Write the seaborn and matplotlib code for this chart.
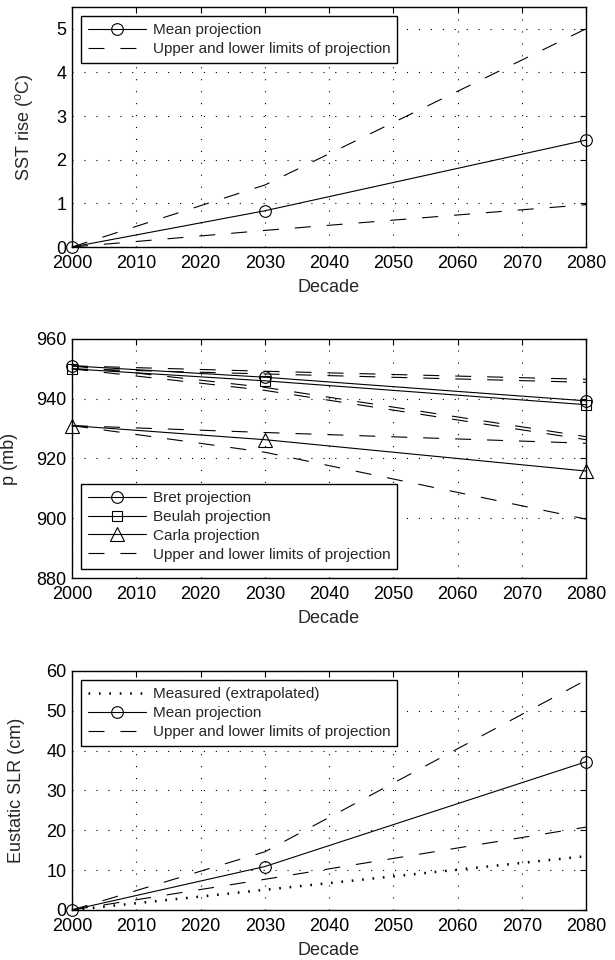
import numpy as np
import matplotlib
matplotlib.use('Agg')
import matplotlib.pyplot as plt
import seaborn as sns

# Data
DECADES = [2000, 2030, 2080]

sst_mean = [0.0, 0.83, 2.45]
sst_upper = [0.0, 1.42, 5.0]
sst_lower = [0.0, 0.38, 0.97]

bret_mean = [951.0, 947.2, 939.3]
bret_upper = [951.0, 949.2, 946.5]
bret_lower = [951.0, 943.8, 927.3]
beulah_mean = [950.0, 946.0, 938.0]
beulah_upper = [950.0, 948.3, 945.5]
beulah_lower = [950.0, 942.8, 926.3]
carla_mean = [931.0, 926.3, 915.8]
carla_upper = [931.0, 928.7, 925.1]
carla_lower = [931.0, 922.1, 899.7]

MEASURED_YEARS = [2000, 2080]
slr_measured = [0.0, 13.5]
slr_mean = [0.0, 10.9, 37.2]
slr_upper = [0.0, 14.6, 57.7]
slr_lower = [0.0, 7.7, 20.8]

XTICKS = list(range(2000, 2081, 10))
LIMITS_LABEL = 'Upper and lower limits of projection'

sns.set_style('white')
plt.rcParams['font.family'] = ['Liberation Sans', 'DejaVu Sans']
plt.rcParams['mathtext.fontset'] = 'custom'
plt.rcParams['mathtext.rm'] = 'Liberation Sans'
plt.rcParams['lines.scale_dashes'] = False

DASH = (0, (11.5, 11.5))
GRID_LS = (0, (0.8, 7.8))


def mean_line(ax, x, y, marker, ms, label):
    sns.lineplot(x=x, y=y, ax=ax, color='k', linewidth=0.8, marker=marker,
                 markersize=ms, markerfacecolor='none', markeredgecolor='k',
                 markeredgewidth=0.8, label=label, legend=False)


def limit_line(ax, x, y, label='_nolegend_'):
    sns.lineplot(x=x, y=y, ax=ax, color='k', linewidth=0.8, linestyle=DASH,
                 label=label, legend=False)


def style_axes(ax, ylim, yticks, ylabel, ylabel_x):
    ax.set_xlim(2000, 2080)
    ax.set_ylim(*ylim)
    ax.set_xticks(XTICKS)
    ax.set_yticks(yticks)
    ax.grid(True, color='k', linestyle=GRID_LS, linewidth=0.8)
    ax.tick_params(direction='in', top=True, right=True, length=4, width=0.8,
                   labelsize=13, pad=4, colors='k')
    ax.tick_params(axis='x', pad=6)
    for sp in ax.spines.values():
        sp.set_color('k')
        sp.set_linewidth(1.0)
    ax.set_xlabel('Decade', fontsize=13, labelpad=5)
    ax.set_ylabel(ylabel, fontsize=13)
    ax.yaxis.set_label_coords(ylabel_x, 0.5)


def add_legend(ax, loc):
    leg = ax.legend(loc=loc, fontsize=11, numpoints=1, handlelength=3.8,
                    handletextpad=0.4, labelspacing=0.32, borderpad=0.45,
                    borderaxespad=0.62, fancybox=False, framealpha=1,
                    edgecolor='k')
    leg.get_frame().set_linewidth(1.0)


fig = plt.figure(figsize=(6.15, 9.6), dpi=100)
ax1 = fig.add_axes([0.1171, 0.7427, 0.8358, 0.25])
ax2 = fig.add_axes([0.1171, 0.3979, 0.8358, 0.249])
ax3 = fig.add_axes([0.1171, 0.0521, 0.8358, 0.249])

# SST rise
mean_line(ax1, DECADES, sst_mean, 'o', 8.4, 'Mean projection')
limit_line(ax1, DECADES, sst_upper, LIMITS_LABEL)
limit_line(ax1, DECADES, sst_lower)
style_axes(ax1, (0, 5.5), range(0, 6), r'SST rise ($^{\mathrm{o}}$C)', -0.072)
add_legend(ax1, 'upper left')

# central pressure
mean_line(ax2, DECADES, bret_mean, 'o', 8.4, 'Bret projection')
mean_line(ax2, DECADES, beulah_mean, 's', 6.5, 'Beulah projection')
mean_line(ax2, DECADES, carla_mean, '^', 9.5, 'Carla projection')
limit_line(ax2, DECADES, bret_upper, LIMITS_LABEL)
for y in [bret_lower, beulah_upper, beulah_lower, carla_upper, carla_lower]:
    limit_line(ax2, DECADES, y)
style_axes(ax2, (880, 960), range(880, 961, 20), 'p (mb)', -0.106)
add_legend(ax2, 'lower left')

# eustatic sea level rise
sns.lineplot(x=MEASURED_YEARS, y=slr_measured, ax=ax3, color='k', linewidth=1.8,
             linestyle=(0, (1.2, 6.3)), label='Measured (extrapolated)', legend=False)
mean_line(ax3, DECADES, slr_mean, 'o', 8.4, 'Mean projection')
limit_line(ax3, DECADES, slr_upper, LIMITS_LABEL)
limit_line(ax3, DECADES, slr_lower)
style_axes(ax3, (0, 60), range(0, 61, 10), 'Eustatic SLR (cm)', -0.091)
add_legend(ax3, 'upper left')

for ax in (ax1, ax2, ax3):
    for ln in ax.get_lines():
        ln.set_clip_on(False)

fig.savefig('out.png', dpi=100)
plt.close(fig)
